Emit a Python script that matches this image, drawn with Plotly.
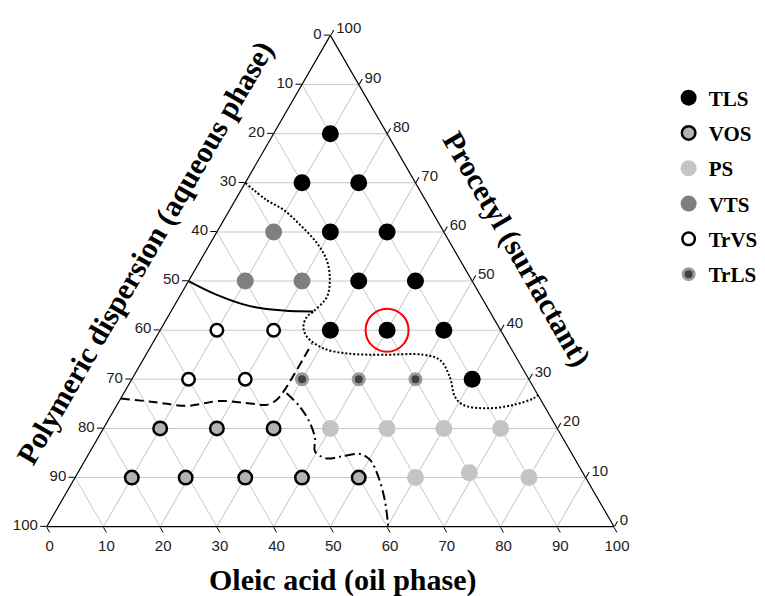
import plotly.graph_objects as go

# ---------------- data (% composition) ----------------
# a = Procetyl (surfactant), b = Polymeric dispersion (aqueous phase), c = Oleic acid (oil phase)
tls_procetyl = [80, 70, 70, 60, 60, 50, 50, 40, 40, 40, 30]
tls_oleic = [10, 10, 20, 20, 30, 30, 40, 30, 40, 50, 60]
tls_polymeric = [10, 20, 10, 20, 10, 20, 10, 30, 20, 10, 10]

vos_procetyl = [20, 20, 20, 10, 10, 10, 10, 10]
vos_oleic = [10, 20, 30, 10, 19.5, 30, 40, 50]
vos_polymeric = [70, 60, 50, 80, 70.5, 60, 50, 40]

ps_procetyl = [20, 20, 20, 20, 10, 11, 10]
ps_oleic = [40, 50, 60, 70, 60, 69, 80]
ps_polymeric = [40, 30, 20, 10, 30, 20, 10]

vts_procetyl = [60, 50, 50]
vts_oleic = [10, 10, 20]
vts_polymeric = [30, 40, 30]

trvs_procetyl = [40, 40, 30, 30]
trvs_oleic = [10, 20, 10, 20]
trvs_polymeric = [50, 40, 60, 50]

trls_procetyl = [30, 30, 30]
trls_oleic = [30, 40, 50]
trls_polymeric = [40, 30, 20]

# highlighted (optimal) formulation
opt_procetyl = [40]
opt_oleic = [40]
opt_polymeric = [20]

# phase boundaries
dotted_procetyl = [70, 66.5, 64.5, 61.4, 57.7, 54.3, 50.6, 46.8, 43.8, 42.7, 40.7, 38.7,
                   36.3, 35.2, 35.0, 35.0, 33.9, 30.5, 26.5, 24.8, 24.1, 24.8, 26.1, 26.8]
dotted_oleic = [0, 5.5, 9.5, 14.0, 18.8, 22.2, 24.6, 26.0, 25.1, 24.5, 24.9, 26.5,
                30.6, 35.9, 41.8, 48.9, 52.4, 55.8, 58.7, 61.0, 65.5, 69.9, 72.7, 73.2]
dotted_polymeric = [30, 28.0, 26.0, 24.6, 23.5, 23.5, 24.8, 27.2, 31.1, 32.8, 34.4, 34.8,
                    33.1, 28.9, 23.2, 16.1, 13.7, 13.7, 14.8, 14.2, 10.4, 5.3, 1.2, 0]

solid_procetyl = [50, 47.2, 44.9, 44.0, 43.8]
solid_oleic = [0, 6.4, 13.4, 19.7, 25.1]
solid_polymeric = [50, 46.4, 41.7, 36.3, 31.1]

dashed_procetyl = [26.1, 25.4, 24.6, 25.6, 25.0, 24.8, 25.8, 27.6, 37.3]
dashed_oleic = [0, 6.1, 12.4, 17.75, 23.9, 26.4, 27.6, 28.0, 28.1]
dashed_polymeric = [73.9, 68.5, 63.0, 56.65, 51.1, 48.8, 46.6, 44.4, 34.6]

dashdot_procetyl = [27.15, 24.4, 21.05, 18.0, 15.3, 13.9, 14.25, 14.8, 13.6, 10.2, 5.4, 0]
dashdot_oleic = [28.7, 32.45, 35.9, 38.3, 39.65, 42.4, 44.6, 47.8, 50.2, 53.35, 56.9, 60.2]
dashdot_polymeric = [44.15, 43.15, 43.05, 43.7, 45.05, 43.7, 41.15, 37.4, 36.2, 36.45, 37.7, 39.8]

# each edge is labelled with the component that reaches 100 at the next corner
# (counter-clockwise reading), so plotly's tick values are shown reversed
tick_positions = [0, 10, 20, 30, 40, 50, 60, 70, 80, 90, 100]
tick_labels = ["100", "90", "80", "70", "60", "50", "40", "30", "20", "10", "0"]

# ---------------- figure ----------------
fig = go.Figure()

def add_boundary(a, b, c, dash):
    fig.add_trace(go.Scatterternary(
        a=a, b=b, c=c, mode="lines", showlegend=False, hoverinfo="skip",
        line=dict(color="black", width=2, dash=dash, shape="spline", smoothing=1)))

add_boundary(dotted_procetyl, dotted_polymeric, dotted_oleic, "2px,2px")
add_boundary(solid_procetyl, solid_polymeric, solid_oleic, "solid")
add_boundary(dashed_procetyl, dashed_polymeric, dashed_oleic, "9px,5px")
add_boundary(dashdot_procetyl, dashdot_polymeric, dashdot_oleic, "10px,4px,2px,4px")

def add_points(name, a, b, c, size, fill, lc, lw):
    fig.add_trace(go.Scatterternary(
        a=a, b=b, c=c, mode="markers", name=name, legendgroup=name,
        marker=dict(symbol="circle", size=size, color=fill,
                    line=dict(color=lc, width=lw))))

add_points("TLS", tls_procetyl, tls_polymeric, tls_oleic, 17, "black", "black", 0)
add_points("VOS", vos_procetyl, vos_polymeric, vos_oleic, 13.5, "#b3b3b3", "black", 2.5)
add_points("PS", ps_procetyl, ps_polymeric, ps_oleic, 17, "#c4c4c4", "#c4c4c4", 0)
add_points("VTS", vts_procetyl, vts_polymeric, vts_oleic, 17, "#7f7f7f", "#7f7f7f", 0)
add_points("TrVS", trvs_procetyl, trvs_polymeric, trvs_oleic, 12.5, "white", "black", 2.5)
add_points("TrLS", trls_procetyl, trls_polymeric, trls_oleic, 11, "#404040", "#9a9a9a", 3)

fig.add_trace(go.Scatterternary(
    a=opt_procetyl, b=opt_polymeric, c=opt_oleic, mode="markers", showlegend=False,
    marker=dict(symbol="circle-open", size=43, color="red", line=dict(color="red", width=2))))

axis_style = dict(
    min=0, tickmode="array", tickvals=tick_positions, ticktext=tick_labels,
    showgrid=True, gridcolor="#c8c8c8", gridwidth=1,
    showline=True, linecolor="black", linewidth=1.2,
    ticks="outside", ticklen=6, tickwidth=1, tickcolor="black",
    tickfont=dict(family="Liberation Sans, Arial", size=15, color="#222222"),
    title=dict(text=""), layer="below traces",
)

title_font = dict(family="Liberation Serif, Times New Roman", size=30, color="black", weight="bold")

fig.update_layout(
    template="none",
    width=757, height=588,
    margin=dict(l=0, r=0, t=0, b=0),
    paper_bgcolor="white",
    ternary=dict(
        sum=100, bgcolor="white",
        domain=dict(x=[0.05112, 0.80053], y=[0.11786, 0.95340]),
        aaxis=axis_style, baxis=axis_style, caxis=axis_style,
    ),
    showlegend=True,
    legend=dict(
        x=0.8727, y=0.8818, xanchor="left", yanchor="top",
        font=dict(family="Liberation Serif, Times New Roman", size=21, color="black", weight="bold"),
        tracegroupgap=5, bgcolor="rgba(0,0,0,0)", traceorder="grouped",
    ),
    annotations=[
        dict(text="Oleic acid (oil phase)", x=0.4425, y=0.0272, xref="paper", yref="paper",
             xanchor="center", yanchor="middle", showarrow=False, font=title_font),
        dict(text="Polymeric dispersion (aqueous phase)", x=0.1810, y=0.5833, xref="paper", yref="paper",
             xanchor="center", yanchor="middle", showarrow=False, textangle=-60, font=title_font),
        dict(text="Procetyl (surfactant)", x=0.6720, y=0.5898, xref="paper", yref="paper",
             xanchor="center", yanchor="middle", showarrow=False, textangle=60, font=title_font),
    ],
)

fig.write_html("out.html")
